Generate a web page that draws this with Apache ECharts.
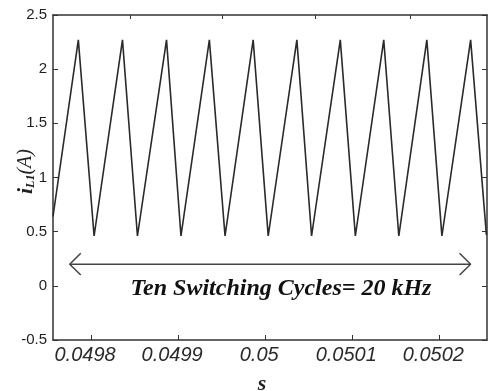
<!DOCTYPE html>
<html><head><meta charset="utf-8">
<script src="https://cdn.jsdelivr.net/npm/echarts@6/dist/echarts.min.js"></script>
<style>html,body{margin:0;padding:0;background:#fff}#c{width:488px;height:391px}</style>
</head><body><div id="c"></div>
<script>
// Waveform vertices (time in s, inductor current in A)
const timeS = [0.0497563, 0.0497854, 0.0498035, 0.0498361, 0.0498533, 0.0498867, 0.0499033,
  0.0499359, 0.0499539, 0.0499862, 0.0500035, 0.0500364, 0.0500533, 0.0500863, 0.0501036,
  0.0501362, 0.0501535, 0.0501857, 0.0502030, 0.0502360, 0.0502541];
const currentA = [0.64, 2.27, 0.46, 2.27, 0.46, 2.27, 0.46, 2.27, 0.46, 2.27, 0.46,
  2.27, 0.46, 2.27, 0.46, 2.27, 0.46, 2.27, 0.46, 2.27, 0.47];

const xMin = 0.0497563, xMax = 0.0502548;
const xTickValues = [0.0498, 0.0499, 0.05, 0.0501, 0.0502];
const xTickLabels = ['0.0498', '0.0499', '0.05', '0.0501', '0.0502'];
const topTickValues = [0.049845, 0.0499508, 0.0500579, 0.0501661];
const yMin = -0.5, yMax = 2.5, yStep = 0.5;

// Annotation arrow (data units)
const arrowStartS = 0.0497755, arrowEndS = 0.050236, arrowLevelA = 0.2;
const headDxS = 0.0000127, headDyA = 0.1;
const annotationText = 'Ten Switching Cycles= 20 kHz';
const annotationAtS = 0.0500182, annotationAtA = -0.03;

const waveform = timeS.map((t, i) => [t, currentA[i]]);
const shaft = [[arrowStartS, arrowLevelA], [arrowEndS, arrowLevelA]];
const headL = [[arrowStartS + headDxS, arrowLevelA + headDyA], [arrowStartS, arrowLevelA], [arrowStartS + headDxS, arrowLevelA - headDyA]];
const headR = [[arrowEndS - headDxS, arrowLevelA + headDyA], [arrowEndS, arrowLevelA], [arrowEndS - headDxS, arrowLevelA - headDyA]];

const axisCol = '#333';
const serif = '"Liberation Serif", "DejaVu Serif", serif';
const sans = '"Liberation Sans", Arial, sans-serif';

const chart = echarts.init(document.getElementById('c'), null, {renderer: 'canvas'});
const lineSeries = (data, color, width) => ({
  type: 'line', data, showSymbol: false, symbol: 'none', silent: true,
  lineStyle: {color, width}, animation: false, z: 3
});
chart.setOption({
  animation: false,
  grid: {left: 53, right: 1, top: 15, bottom: 51, containLabel: false, outerBoundsMode: 'none'},
  xAxis: [{
    type: 'value', min: xMin, max: xMax, position: 'bottom',
    axisLine: {show: true, onZero: false, lineStyle: {color: axisCol, width: 1.5}},
    axisTick: {show: true, inside: true, length: 5, customValues: xTickValues, lineStyle: {color: axisCol, width: 1}},
    axisLabel: {
      customValues: xTickValues, margin: 5, color: '#2a2a2a', fontFamily: sans, fontStyle: 'italic', fontSize: 20,
      padding: [0, 12, 0, 0], hideOverlap: false,
      formatter: v => { const i = xTickValues.findIndex(x => Math.abs(x - v) < 1e-9); return i >= 0 ? xTickLabels[i] : ''; }
    },
    splitLine: {show: false},
    name: 's', nameLocation: 'middle', nameGap: 33, nameMoveOverlap: false,
    nameTextStyle: {fontFamily: serif, fontStyle: 'italic', fontWeight: 'bold', fontSize: 22, color: '#222', padding: [0, 16, 0, 0], verticalAlign: 'top'}
  }, {
    type: 'value', min: xMin, max: xMax, position: 'top',
    axisLine: {show: true, onZero: false, lineStyle: {color: axisCol, width: 1.5}},
    axisTick: {show: true, inside: true, length: 4, customValues: topTickValues, lineStyle: {color: axisCol, width: 1}},
    axisLabel: {show: false}, splitLine: {show: false}
  }],
  yAxis: [{
    type: 'value', min: yMin, max: yMax, interval: yStep, position: 'left',
    axisLine: {show: true, onZero: false, lineStyle: {color: axisCol, width: 1.5}},
    axisTick: {show: true, inside: true, length: 5, lineStyle: {color: axisCol, width: 1}},
    axisLabel: {margin: 6, color: '#1e1e1e', fontFamily: sans, fontSize: 15},
    splitLine: {show: false},
    name: '{i|i}{s|L1}{p|(A)}', nameLocation: 'middle', nameGap: 16, nameRotate: 90, nameMoveOverlap: false,
    nameTextStyle: {
      padding: [0, 0, 0, 12],
      rich: {
        i: {fontFamily: serif, fontStyle: 'italic', fontWeight: 'bold', fontSize: 22, color: '#222', verticalAlign: 'middle'},
        s: {fontFamily: serif, fontStyle: 'italic', fontWeight: 'bold', fontSize: 12, color: '#222', verticalAlign: 'bottom'},
        p: {fontFamily: serif, fontStyle: 'italic', fontSize: 20, color: '#222', verticalAlign: 'middle'}
      }
    }
  }, {
    type: 'value', min: yMin, max: yMax, interval: yStep, position: 'right',
    axisLine: {show: true, onZero: false, lineStyle: {color: axisCol, width: 1.5}},
    axisTick: {show: true, inside: true, length: 5, lineStyle: {color: axisCol, width: 1}},
    axisLabel: {show: false}, splitLine: {show: false}
  }],
  series: [
    lineSeries(waveform, '#2a2a2a', 1.6),
    lineSeries(shaft, '#444', 1.5),
    lineSeries(headL, '#444', 1.5),
    lineSeries(headR, '#444', 1.5),
    {
      type: 'scatter', data: [[annotationAtS, annotationAtA]], symbolSize: 0, silent: true,
      itemStyle: {opacity: 1},
      label: {show: true, position: 'inside', formatter: annotationText, opacity: 1,
        fontFamily: serif, fontStyle: 'italic', fontWeight: 'bold', fontSize: 24, color: '#111'}
    }
  ]
});
</script></body></html>
